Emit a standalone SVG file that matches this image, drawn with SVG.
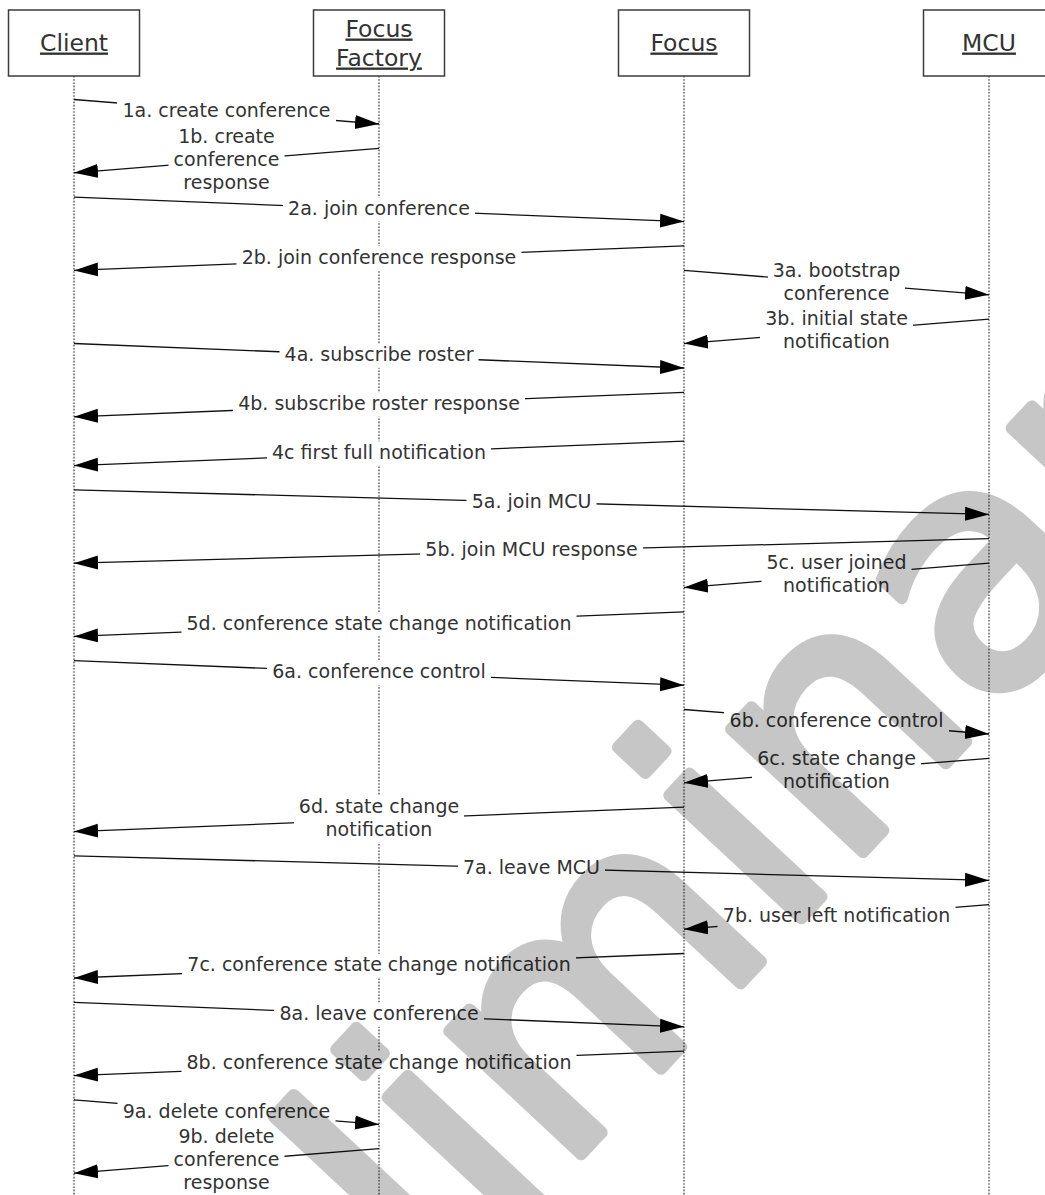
<svg xmlns="http://www.w3.org/2000/svg" width="1045" height="1195" viewBox="0 0 1045 1195">
<style>
.box{fill:#fff;stroke:#3c3c3c;stroke-width:1.5}
.life{stroke:#444;stroke-width:1.3;stroke-dasharray:1.6 1.6;fill:none}
.hdr{font-family:"DejaVu Sans",Verdana,sans-serif;font-size:23.5px;fill:#333;text-anchor:middle;text-decoration:underline}
.msg{stroke:#111;stroke-width:1.3;fill:none;marker-end:url(#ah)}
.bg{fill:#fff}
.lbl{font-family:"DejaVu Sans",Verdana,sans-serif;font-size:19px;fill:#333;text-anchor:middle}
.wm{font-family:"DejaVu Sans",sans-serif;font-size:330px;fill:#000;stroke:#000;stroke-width:12;stroke-linejoin:round}
</style>
<defs>
<marker id="ah" markerUnits="userSpaceOnUse" markerWidth="26" markerHeight="16" refX="24" refY="7.5" orient="auto">
<path d="M0,0.5 L24,7.5 L0,14.5 z" fill="#000"/>
</marker>
</defs>
<rect width="1045" height="1195" fill="#fff"/>
<g id="client">
<line class="life" x1="74" y1="76" x2="74" y2="1195"/>
<rect class="box" x="8.5" y="10" width="131" height="66"/>
<text class="hdr" x="74" y="50.5">Client</text>
</g>
<g id="focusfactory">
<line class="life" x1="379" y1="76" x2="379" y2="1195"/>
<rect class="box" x="313.5" y="10" width="131" height="66"/>
<text class="hdr" x="379" y="36.5">Focus</text>
<text class="hdr" x="379" y="65.5">Factory</text>
</g>
<g id="focus">
<line class="life" x1="684" y1="76" x2="684" y2="1195"/>
<rect class="box" x="618.5" y="10" width="131" height="66"/>
<text class="hdr" x="684" y="50.5">Focus</text>
</g>
<g id="mcu">
<line class="life" x1="989" y1="76" x2="989" y2="1195"/>
<rect class="box" x="923.5" y="10" width="131" height="66"/>
<text class="hdr" x="989" y="50.5">MCU</text>
</g>
<g id="connectors">
<line class="msg" x1="74" y1="99.5" x2="379" y2="124"/>
<line class="msg" x1="379" y1="148.3" x2="74" y2="172.8"/>
<line class="msg" x1="74" y1="197.1" x2="684" y2="221.6"/>
<line class="msg" x1="684" y1="245.9" x2="74" y2="270.4"/>
<line class="msg" x1="684" y1="270.3" x2="989" y2="294.8"/>
<line class="msg" x1="989" y1="319.1" x2="684" y2="343.6"/>
<line class="msg" x1="74" y1="343.5" x2="684" y2="368"/>
<line class="msg" x1="684" y1="392.3" x2="74" y2="416.8"/>
<line class="msg" x1="684" y1="441.1" x2="74" y2="465.6"/>
<line class="msg" x1="74" y1="489.9" x2="989" y2="514.4"/>
<line class="msg" x1="989" y1="538.7" x2="74" y2="563.2"/>
<line class="msg" x1="989" y1="563.1" x2="684" y2="587.6"/>
<line class="msg" x1="684" y1="611.9" x2="74" y2="636.4"/>
<line class="msg" x1="74" y1="660.7" x2="684" y2="685.2"/>
<line class="msg" x1="684" y1="709.5" x2="989" y2="734"/>
<line class="msg" x1="989" y1="758.3" x2="684" y2="782.8"/>
<line class="msg" x1="684" y1="807.1" x2="74" y2="831.6"/>
<line class="msg" x1="74" y1="855.9" x2="989" y2="880.4"/>
<line class="msg" x1="989" y1="904.7" x2="684" y2="929.2"/>
<line class="msg" x1="684" y1="953.5" x2="74" y2="978"/>
<line class="msg" x1="74" y1="1002.3" x2="684" y2="1026.8"/>
<line class="msg" x1="684" y1="1051.1" x2="74" y2="1075.6"/>
<line class="msg" x1="74" y1="1099.9" x2="379" y2="1124.4"/>
<line class="msg" x1="379" y1="1148.7" x2="74" y2="1173.2"/>
</g>
<g id="labels">
<rect class="bg" x="117" y="99.75" width="219" height="24"/>
<text class="lbl" x="226.5" y="117.25">1a. create conference</text>
<rect class="bg" x="168.5" y="125.55" width="116" height="70"/>
<text class="lbl" x="226.5" y="143.05">1b. create</text>
<text class="lbl" x="226.5" y="166.05">conference</text>
<text class="lbl" x="226.5" y="189.05">response</text>
<rect class="bg" x="283" y="197.35" width="192" height="24"/>
<text class="lbl" x="379" y="214.85">2a. join conference</text>
<rect class="bg" x="236.5" y="246.15" width="285" height="24"/>
<text class="lbl" x="379" y="263.65">2b. join conference response</text>
<rect class="bg" x="768" y="259.05" width="137" height="47"/>
<text class="lbl" x="836.5" y="276.55">3a. bootstrap</text>
<text class="lbl" x="836.5" y="299.55">conference</text>
<rect class="bg" x="760" y="307.85" width="153" height="47"/>
<text class="lbl" x="836.5" y="325.35">3b. initial state</text>
<text class="lbl" x="836.5" y="348.35">notification</text>
<rect class="bg" x="279.5" y="343.75" width="199" height="24"/>
<text class="lbl" x="379" y="361.25">4a. subscribe roster</text>
<rect class="bg" x="233" y="392.55" width="292" height="24"/>
<text class="lbl" x="379" y="410.05">4b. subscribe roster response</text>
<rect class="bg" x="267" y="441.35" width="224" height="24"/>
<text class="lbl" x="379" y="458.85">4c first full notification</text>
<rect class="bg" x="466.5" y="490.15" width="130" height="24"/>
<text class="lbl" x="531.5" y="507.65">5a. join MCU</text>
<rect class="bg" x="420" y="538.95" width="223" height="24"/>
<text class="lbl" x="531.5" y="556.45">5b. join MCU response</text>
<rect class="bg" x="761.5" y="551.85" width="150" height="47"/>
<text class="lbl" x="836.5" y="569.35">5c. user joined</text>
<text class="lbl" x="836.5" y="592.35">notification</text>
<rect class="bg" x="181.5" y="612.15" width="395" height="24"/>
<text class="lbl" x="379" y="629.65">5d. conference state change notification</text>
<rect class="bg" x="267" y="660.95" width="224" height="24"/>
<text class="lbl" x="379" y="678.45">6a. conference control</text>
<rect class="bg" x="724" y="709.75" width="225" height="24"/>
<text class="lbl" x="836.5" y="727.25">6b. conference control</text>
<rect class="bg" x="752" y="747.05" width="169" height="47"/>
<text class="lbl" x="836.5" y="764.55">6c. state change</text>
<text class="lbl" x="836.5" y="787.55">notification</text>
<rect class="bg" x="294" y="795.85" width="170" height="47"/>
<text class="lbl" x="379" y="813.35">6d. state change</text>
<text class="lbl" x="379" y="836.35">notification</text>
<rect class="bg" x="458" y="856.15" width="147" height="24"/>
<text class="lbl" x="531.5" y="873.65">7a. leave MCU</text>
<rect class="bg" x="717.5" y="904.95" width="238" height="24"/>
<text class="lbl" x="836.5" y="922.45">7b. user left notification</text>
<rect class="bg" x="182" y="953.75" width="394" height="24"/>
<text class="lbl" x="379" y="971.25">7c. conference state change notification</text>
<rect class="bg" x="274" y="1002.55" width="210" height="24"/>
<text class="lbl" x="379" y="1020.05">8a. leave conference</text>
<rect class="bg" x="181.5" y="1051.35" width="395" height="24"/>
<text class="lbl" x="379" y="1068.85">8b. conference state change notification</text>
<rect class="bg" x="117.5" y="1100.15" width="218" height="24"/>
<text class="lbl" x="226.5" y="1117.65">9a. delete conference</text>
<rect class="bg" x="168.5" y="1125.95" width="116" height="70"/>
<text class="lbl" x="226.5" y="1143.45">9b. delete</text>
<text class="lbl" x="226.5" y="1166.45">conference</text>
<text class="lbl" x="226.5" y="1189.45">response</text>
</g>
<g id="watermark" opacity="0.22">
<text class="wm" transform="translate(78,1694) rotate(-47)">Preliminary</text>
</g>
</svg>
